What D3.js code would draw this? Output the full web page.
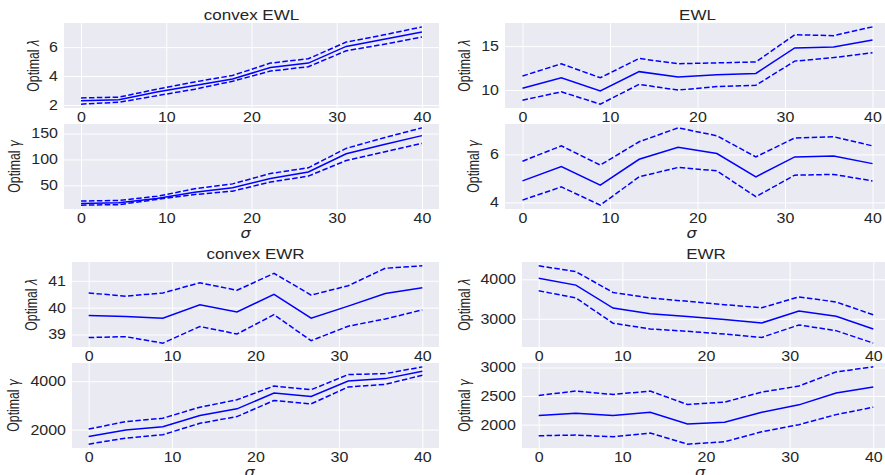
<!DOCTYPE html>
<html>
<head>
<meta charset="utf-8">
<script src="https://cdn.jsdelivr.net/npm/d3@7"></script>
<style>
  body { margin: 0; background: #fff; }
  svg { display: block; font-family: "Liberation Sans", Arial, sans-serif; }
</style>
</head>
<body>
<div id="chart"></div>
<script>
// sigma grid (10 points from 0 to 40)
const sigma = [0, 4.44, 8.89, 13.33, 17.78, 22.22, 26.67, 31.11, 35.56, 40];
const xTicks = [0, 10, 20, 30, 40];

// convex EWL
const cEwlLamMean = [2.3, 2.37, 2.9, 3.35, 3.8, 4.6, 4.9, 6.05, 6.55, 7.05];
const cEwlLamHi   = [2.5, 2.55, 3.1, 3.6, 4.05, 4.9, 5.2, 6.35, 6.85, 7.4];
const cEwlLamLo   = [2.07, 2.2, 2.65, 3.1, 3.65, 4.35, 4.65, 5.75, 6.2, 6.7];
const cEwlGamMean = [15, 16.5, 25, 37, 45.5, 63.5, 76, 111, 129, 146];
const cEwlGamHi   = [20, 21, 29, 43.5, 53, 73, 84, 121.5, 142, 161];
const cEwlGamLo   = [12, 13, 23, 32.5, 39, 56.5, 68, 98, 114.5, 131];

// EWL
const ewlLamMean = [10.2, 11.4, 9.9, 12.1, 11.5, 11.75, 11.9, 14.8, 14.9, 15.7];
const ewlLamHi   = [11.6, 13.0, 11.4, 13.6, 13.0, 13.1, 13.2, 16.3, 16.2, 17.2];
const ewlLamLo   = [8.85, 9.8, 8.4, 10.65, 10.0, 10.4, 10.55, 13.3, 13.7, 14.25];
const ewlGamMean = [4.9, 5.5, 4.72, 5.8, 6.3, 6.04, 5.07, 5.9, 5.94, 5.62];
const ewlGamHi   = [5.72, 6.36, 5.56, 6.53, 7.11, 6.78, 5.9, 6.69, 6.74, 6.36];
const ewlGamLo   = [4.1, 4.65, 3.89, 5.07, 5.46, 5.32, 4.24, 5.14, 5.17, 4.9];

// convex EWR
const cEwrLamMean = [39.71, 39.67, 39.61, 40.11, 39.84, 40.5, 39.61, 40.06, 40.53, 40.74];
const cEwrLamHi   = [40.55, 40.43, 40.55, 40.93, 40.65, 41.28, 40.47, 40.82, 41.47, 41.56];
const cEwrLamLo   = [38.89, 38.92, 38.68, 39.3, 39.02, 39.74, 38.77, 39.31, 39.58, 39.92];
const cEwrGamMean = [1722, 1986, 2125, 2583, 2861, 3514, 3375, 4014, 4111, 4417];
const cEwrGamHi   = [2028, 2333, 2472, 2931, 3236, 3806, 3653, 4278, 4319, 4597];
const cEwrGamLo   = [1403, 1653, 1792, 2264, 2542, 3208, 3069, 3764, 3875, 4250];

// EWR
const ewrLamMean = [4026, 3855, 3274, 3128, 3060, 2983, 2897, 3197, 3068, 2744];
const ewrLamHi   = [4342, 4197, 3667, 3530, 3444, 3359, 3282, 3556, 3427, 3103];
const ewrLamLo   = [3709, 3530, 2889, 2744, 2684, 2615, 2530, 2846, 2701, 2385];
const ewrGamMean = [2159, 2200, 2159, 2218, 2012, 2041, 2218, 2347, 2553, 2659];
const ewrGamHi   = [2512, 2588, 2529, 2588, 2353, 2394, 2571, 2676, 2924, 3012];
const ewrGamLo   = [1806, 1818, 1788, 1853, 1659, 1700, 1876, 2000, 2176, 2306];

const W = 885, H = 475;
// the reference looks squashed vertically, so draw in a taller space and scale down
const SY = 0.87;
const fy = v => v / SY;

const svg = d3.select('#chart').append('svg')
    .attr('width', W)
    .attr('height', H);

const root = svg.append('g').attr('transform', `scale(1,${SY})`);

// lamLabelX / gamLabelX: where the rotated y labels sit (each follows its own tick labels)
const groups = [
    { title: 'convex EWL', left: 64, right: 439, top: 23, lamLabelX: 39, gamLabelX: 20,
      lam: [cEwlLamMean, cEwlLamHi, cEwlLamLo], lamTicks: [2, 4, 6],
      gam: [cEwlGamMean, cEwlGamHi, cEwlGamLo], gamTicks: [50, 100, 150] },
    { title: 'EWL', left: 505, right: 890, top: 23, lamLabelX: 470, gamLabelX: 479,
      lam: [ewlLamMean, ewlLamHi, ewlLamLo], lamTicks: [10, 15],
      gam: [ewlGamMean, ewlGamHi, ewlGamLo], gamTicks: [4, 6] },
    { title: 'convex EWR', left: 72, right: 439, top: 262, lamLabelX: 37, gamLabelX: 19,
      lam: [cEwrLamMean, cEwrLamHi, cEwrLamLo], lamTicks: [39, 40, 41],
      gam: [cEwrGamMean, cEwrGamHi, cEwrGamLo], gamTicks: [2000, 4000] },
    { title: 'EWR', left: 522, right: 890, top: 262, lamLabelX: 470, gamLabelX: 470,
      lam: [ewrLamMean, ewrLamHi, ewrLamLo], lamTicks: [3000, 4000],
      gam: [ewrGamMean, ewrGamHi, ewrGamLo], gamTicks: [2000, 2500, 3000] }
];

const panelH = 85;   // height of one small panel
const gapH = 16;     // space between the lambda and gamma panels

function drawPanel(g, left, right, top, series, ticks, sym, labelX) {
    const bottom = top + panelH;
    const x = d3.scaleLinear().domain([-2, 42]).range([left, right]);
    const lo = d3.min(series[2]), hi = d3.max(series[1]);
    const pad = (hi - lo) * 0.05;
    const y = d3.scaleLinear().domain([lo - pad, hi + pad]).range([fy(bottom), fy(top)]);

    g.append('rect')
        .attr('x', left).attr('y', fy(top))
        .attr('width', right - left).attr('height', fy(bottom) - fy(top))
        .attr('fill', '#EAEAF2');

    const xAxisG = g.append('g')
        .attr('transform', `translate(0,${fy(bottom)})`)
        .call(d3.axisBottom(x).tickValues(xTicks).tickSize(-(fy(bottom) - fy(top))).tickPadding(5));
    const yAxisG = g.append('g')
        .attr('transform', `translate(${left},0)`)
        .call(d3.axisLeft(y).tickValues(ticks).tickSize(-(right - left)).tickPadding(6).tickFormat(d3.format('d')));

    [xAxisG, yAxisG].forEach(a => {
        a.select('.domain').remove();
        a.selectAll('line').attr('stroke', '#fff').attr('stroke-width', 1)
            .attr('vector-effect', 'non-scaling-stroke');
        a.selectAll('text').attr('fill', '#262626').attr('font-size', 16)
            .attr('font-family', '"Liberation Sans", Arial, sans-serif');
    });

    const line = d3.line().x((d, i) => x(sigma[i])).y(d => y(d));
    series.forEach((s, i) => {
        g.append('path')
            .datum(s)
            .attr('d', line)
            .attr('fill', 'none')
            .attr('stroke', '#0000ff')
            .attr('stroke-width', 1.5)
            .attr('vector-effect', 'non-scaling-stroke')
            .attr('stroke-dasharray', i === 0 ? null : '5.5,2.4');
    });

    // y label (condensed along its length like the reference)
    const cy = fy((top + bottom) / 2);
    const lab = g.append('text')
        .attr('transform', `translate(${labelX},${cy}) rotate(-90) scale(0.88,1)`)
        .attr('text-anchor', 'middle')
        .attr('font-size', 16)
        .attr('fill', '#262626');
    lab.append('tspan').text('Optimal ');
    lab.append('tspan').attr('font-family', '"DejaVu Sans", sans-serif')
        .attr('font-style', 'italic').attr('font-size', 15).text(sym);
}

groups.forEach(gr => {
    const g = root.append('g');
    const lamTop = gr.top;
    const gamTop = gr.top + panelH + gapH;
    drawPanel(g, gr.left, gr.right, lamTop, gr.lam, gr.lamTicks, 'λ', gr.lamLabelX);
    drawPanel(g, gr.left, gr.right, gamTop, gr.gam, gr.gamTicks, 'γ', gr.gamLabelX);

    const cx = (gr.left + gr.right) / 2;
    // title
    g.append('text')
        .attr('x', cx).attr('y', fy(gr.top - 3))
        .attr('text-anchor', 'middle')
        .attr('font-size', 17)
        .attr('fill', '#262626')
        .text(gr.title);

    // x label
    g.append('text')
        .attr('x', cx - 6).attr('y', fy(gamTop + panelH + 29))
        .attr('text-anchor', 'middle')
        .attr('font-family', '"DejaVu Sans", sans-serif')
        .attr('font-style', 'italic')
        .attr('font-size', 16)
        .attr('fill', '#262626')
        .text('σ');
});
</script>
</body>
</html>
